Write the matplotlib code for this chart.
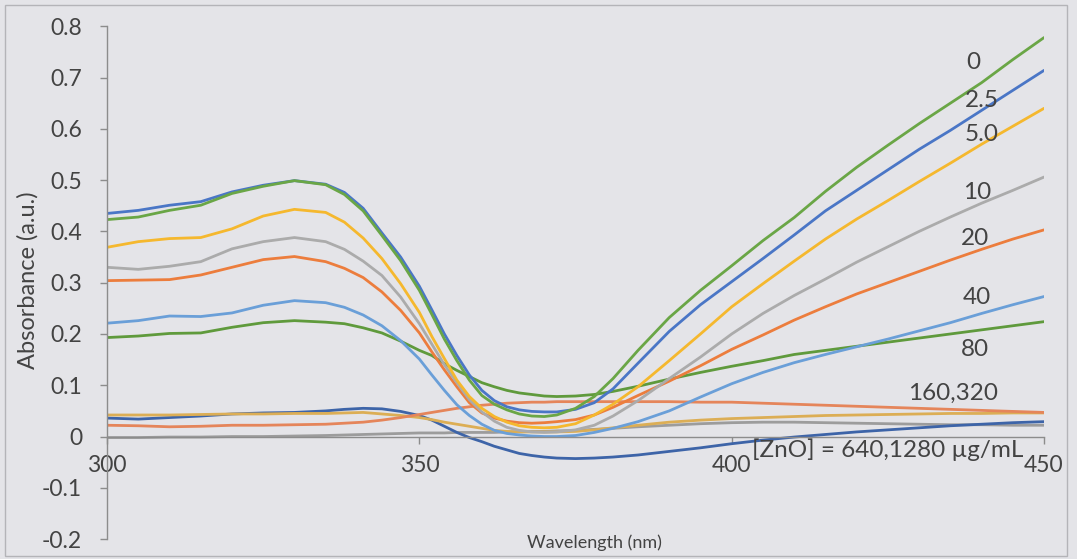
import matplotlib
matplotlib.use("Agg")
import matplotlib.pyplot as plt
from matplotlib.patches import Rectangle
from matplotlib.ticker import FuncFormatter, MultipleLocator

plt.rcParams['font.family'] = ['Lato', 'DejaVu Sans']

# wavelength grid (nm), denser through the absorption dip
wavelength = [300, 305, 310, 315, 320, 325, 330, 335, 338, 341, 344, 347, 350, 352,
              354, 356, 358, 360, 362, 364, 366, 368, 370, 372, 375, 378, 381, 385,
              390, 395, 400, 405, 410, 415, 420, 425, 430, 435, 440, 445, 450]

# absorbance for each ZnO concentration (ug/mL)
abs_0 = [0.423, 0.428, 0.441, 0.451, 0.474, 0.488, 0.499, 0.491, 0.472, 0.44, 0.392,
         0.343, 0.285, 0.238, 0.19, 0.148, 0.11, 0.08, 0.063, 0.052, 0.044, 0.04,
         0.039, 0.042, 0.055, 0.078, 0.113, 0.168, 0.232, 0.285, 0.333, 0.382, 0.427,
         0.478, 0.525, 0.568, 0.61, 0.65, 0.69, 0.735, 0.778]
abs_2_5 = [0.435, 0.441, 0.451, 0.458, 0.477, 0.49, 0.499, 0.492, 0.476, 0.445, 0.397,
           0.35, 0.293, 0.247, 0.2, 0.158, 0.12, 0.09, 0.07, 0.058, 0.052, 0.049,
           0.048, 0.048, 0.053, 0.066, 0.093, 0.143, 0.205, 0.257, 0.302, 0.347, 0.393,
           0.44, 0.48, 0.52, 0.56, 0.597, 0.636, 0.675, 0.714]
abs_5 = [0.369, 0.38, 0.386, 0.388, 0.405, 0.43, 0.443, 0.437, 0.418, 0.387, 0.347,
         0.298, 0.242, 0.195, 0.152, 0.11, 0.078, 0.055, 0.039, 0.028, 0.021, 0.018,
         0.017, 0.018, 0.025, 0.042, 0.063, 0.097, 0.148, 0.2, 0.253, 0.298, 0.342,
         0.385, 0.424, 0.46, 0.497, 0.533, 0.57, 0.605, 0.64]
abs_10 = [0.33, 0.326, 0.332, 0.341, 0.366, 0.38, 0.388, 0.38, 0.365, 0.342, 0.314,
          0.272, 0.22, 0.18, 0.14, 0.105, 0.072, 0.048, 0.03, 0.018, 0.012, 0.009,
          0.008, 0.009, 0.013, 0.022, 0.04, 0.07, 0.113, 0.155, 0.2, 0.24, 0.275,
          0.307, 0.34, 0.37, 0.4, 0.428, 0.455, 0.48, 0.506]
abs_20 = [0.304, 0.305, 0.306, 0.315, 0.33, 0.345, 0.351, 0.341, 0.328, 0.31, 0.282,
          0.246, 0.202, 0.165, 0.13, 0.097, 0.066, 0.046, 0.036, 0.03, 0.027, 0.026,
          0.027, 0.029, 0.033, 0.042, 0.057, 0.08, 0.108, 0.138, 0.17, 0.198, 0.227,
          0.253, 0.278, 0.3, 0.322, 0.344, 0.365, 0.385, 0.403]
abs_40 = [0.221, 0.226, 0.235, 0.234, 0.241, 0.256, 0.265, 0.261, 0.252, 0.237, 0.216,
          0.187, 0.151, 0.12, 0.09, 0.062, 0.041, 0.024, 0.012, 0.006, 0.003, 0.001,
          0.0, 0.0, 0.002, 0.008, 0.016, 0.029, 0.05, 0.077, 0.103, 0.125, 0.144,
          0.16, 0.175, 0.19, 0.206, 0.222, 0.24, 0.257, 0.273]
abs_80 = [0.193, 0.196, 0.201, 0.202, 0.213, 0.222, 0.226, 0.223, 0.22, 0.212, 0.202,
          0.186, 0.168, 0.158, 0.142, 0.129, 0.117, 0.105, 0.097, 0.09, 0.085, 0.082,
          0.079, 0.078, 0.079, 0.082, 0.088, 0.098, 0.112, 0.125, 0.137, 0.148, 0.16,
          0.168, 0.176, 0.184, 0.192, 0.2, 0.208, 0.216, 0.224]
abs_160 = [0.022, 0.021, 0.019, 0.02, 0.022, 0.022, 0.023, 0.024, 0.026, 0.028, 0.032,
           0.037, 0.043, 0.047, 0.051, 0.055, 0.058, 0.061, 0.063, 0.065, 0.066, 0.067,
           0.067, 0.068, 0.068, 0.068, 0.068, 0.068, 0.068, 0.067, 0.067, 0.065, 0.063,
           0.061, 0.059, 0.057, 0.055, 0.053, 0.051, 0.049, 0.047]
abs_320 = [0.042, 0.042, 0.042, 0.043, 0.044, 0.044, 0.045, 0.045, 0.046, 0.047, 0.044,
           0.041, 0.037, 0.033, 0.028, 0.024, 0.02, 0.016, 0.012, 0.01, 0.009, 0.009,
           0.009, 0.009, 0.01, 0.013, 0.017, 0.022, 0.028, 0.032, 0.035, 0.037, 0.039,
           0.041, 0.042, 0.043, 0.044, 0.045, 0.045, 0.046, 0.046]
abs_640 = [0.036, 0.034, 0.037, 0.04, 0.044, 0.046, 0.047, 0.05, 0.053, 0.055, 0.054,
           0.049, 0.041, 0.032, 0.02, 0.008, -0.002, -0.01, -0.019, -0.026, -0.033,
           -0.037, -0.04, -0.042, -0.043, -0.042, -0.04, -0.036, -0.029, -0.022, -0.014,
           -0.007, -0.001, 0.004, 0.009, 0.013, 0.017, 0.021, 0.024, 0.027, 0.029]
abs_1280 = [-0.002, -0.002, -0.001, -0.001, 0.0, 0.0, 0.001, 0.002, 0.003, 0.004, 0.005,
            0.006, 0.007, 0.007, 0.007, 0.008, 0.008, 0.008, 0.008, 0.009, 0.009, 0.01,
            0.01, 0.011, 0.012, 0.014, 0.016, 0.019, 0.022, 0.025, 0.027, 0.028, 0.028,
            0.027, 0.026, 0.025, 0.024, 0.023, 0.023, 0.022, 0.022]

series = [
    (abs_1280, '#9c9c9c'),
    (abs_640, '#3d64a8'),
    (abs_320, '#dcae55'),
    (abs_160, '#e5855a'),
    (abs_80, '#5f9a3c'),
    (abs_40, '#6a9fd8'),
    (abs_20, '#ec7d3d'),
    (abs_10, '#ababab'),
    (abs_5, '#f5b82e'),
    (abs_2_5, '#4a76c6'),
    (abs_0, '#6aa646'),
]

# curve annotations: text, x (nm), y (absorbance)
label_text = ['0', '2.5', '5.0', '10', '20', '40', '80', '160,320',
              '[ZnO] = 640,1280 µg/mL']
label_x = [438.7, 440.0, 440.0, 439.3, 439.0, 439.3, 439.0, 435.5, 424.9]
label_y = [0.730, 0.656, 0.588, 0.475, 0.387, 0.272, 0.169, 0.085, -0.026]

text_color = '#434343'
axis_color = '#8c8c8c'
bg = '#e4e4e8'

fig = plt.figure(figsize=(10.77, 5.59), dpi=100, facecolor=bg)
ax = fig.add_axes([0.0994, 0.0356, 0.8700, 0.9174])
ax.set_facecolor(bg)

for values, color in series:
    ax.plot(wavelength, values, color=color, lw=2.0, solid_capstyle='round')

ax.set_xlim(300, 450)
ax.set_ylim(-0.2, 0.8)
ax.xaxis.set_major_locator(MultipleLocator(50))
ax.yaxis.set_major_locator(MultipleLocator(0.1))


def fmt_y(v, pos):
    v = round(v, 1)
    if v == 0:
        return '0'
    return f'{v:.1f}'


ax.yaxis.set_major_formatter(FuncFormatter(fmt_y))

for side in ('top', 'right'):
    ax.spines[side].set_visible(False)
ax.spines['bottom'].set_position(('data', 0))
for side in ('left', 'bottom'):
    ax.spines[side].set_color(axis_color)
    ax.spines[side].set_linewidth(1.0)

ax.tick_params(axis='both', colors=axis_color, labelcolor=text_color,
               labelsize=16.5, length=5, width=1.0, direction='out')
ax.tick_params(axis='y', pad=13)
ax.tick_params(axis='x', pad=8)

for t, x, y in zip(label_text, label_x, label_y):
    ax.text(x, y, t, color=text_color, fontsize=17.5, ha='center', va='center')

fig.text(594 / 1077, 1 - 543 / 559, 'Wavelength (nm)', color=text_color,
         fontsize=13, ha='center', va='center')
fig.text(28 / 1077, 1 - 280 / 559, 'Absorbance (a.u.)', color=text_color,
         fontsize=17, ha='center', va='center', rotation=90)

# outer chart border
fig.patches.append(Rectangle((5 / 1077, 3 / 559), 1062 / 1077, 551 / 559,
                             transform=fig.transFigure, fill=False,
                             edgecolor='#b4b4b8', lw=1.0))

fig.savefig('out.png', dpi=100, facecolor=bg)
